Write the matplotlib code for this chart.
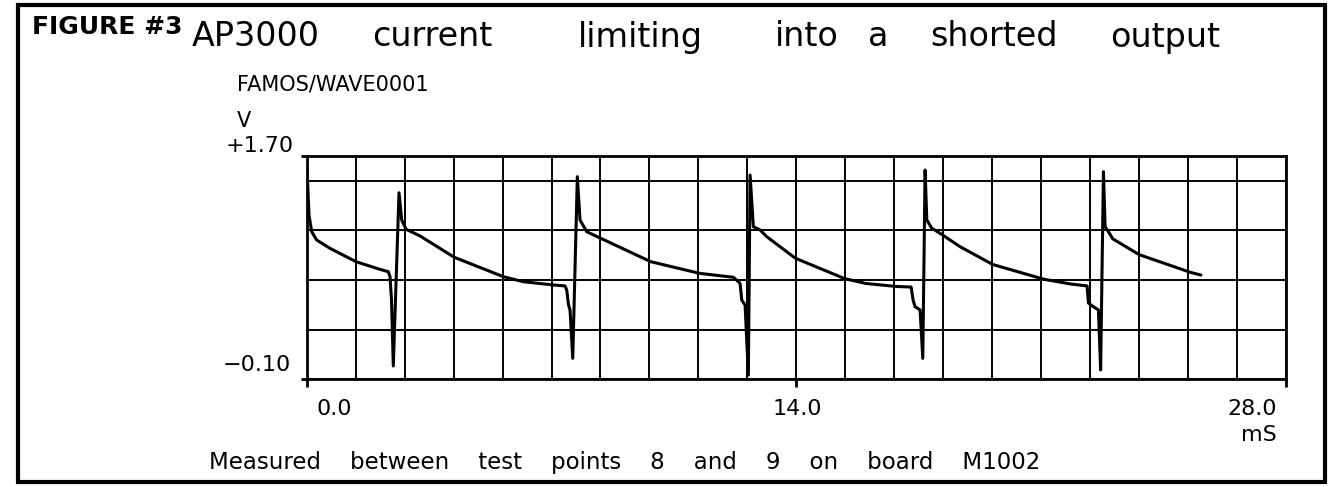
import numpy as np
import matplotlib
matplotlib.use("Agg")
import matplotlib.pyplot as plt
from matplotlib.patches import Rectangle

# ---------------- data ----------------
time_ms = [0.000, 0.066, 0.143, 0.286, 0.666, 1.410, 2.096, 2.333, 2.382, 2.425,
           2.476, 2.639, 2.717, 2.840, 3.240, 4.221, 5.622, 6.194, 7.052, 7.386,
           7.435, 7.486, 7.529, 7.607, 7.738, 7.815, 8.007, 8.407, 9.837, 11.227,
           12.199, 12.391, 12.439, 12.534, 12.628, 12.677, 12.771, 12.963, 13.154, 13.972,
           15.382, 15.988, 16.846, 17.281, 17.338, 17.395, 17.538, 17.615, 17.681, 17.730,
           17.873, 18.110, 18.682, 19.617, 21.081, 21.836, 22.313, 22.351, 22.494, 22.637,
           22.700, 22.780, 22.828, 22.923, 23.046, 23.800, 25.265, 25.568]
volts = [1.660, 1.225, 1.090, 1.023, 0.956, 0.848, 0.786, 0.767, 0.727, 0.538,
         0.005, 1.405, 1.185, 1.110, 1.056, 0.883, 0.727, 0.686, 0.660, 0.652,
         0.619, 0.498, 0.458, 0.067, 1.535, 1.185, 1.090, 1.037, 0.848, 0.754,
         0.722, 0.673, 0.538, 0.498, -0.068, 1.548, 1.131, 1.104, 1.050, 0.876,
         0.711, 0.672, 0.648, 0.643, 0.538, 0.484, 0.458, 0.067, 1.589, 1.185,
         1.118, 1.077, 0.969, 0.825, 0.706, 0.668, 0.652, 0.514, 0.484, 0.458,
         -0.027, 1.575, 1.131, 1.090, 1.033, 0.905, 0.762, 0.740]

x_limits = [0.0, 28.0]
y_limits = [-0.10, 1.70]
x_ticks = [0.0, 14.0, 28.0]
x_tick_labels = ["0.0", "14.0", "28.0"]
y_tick_labels = ["\u22120.10", "+1.70"]
x_grid_step = 1.4
y_grid_step = 0.4

figure_label = "FIGURE #3"
title_words = ["AP3000", "current", "limiting", "into", "a", "shorted", "output"]
source_label = "FAMOS/WAVE0001"
y_unit = "V"
x_unit = "mS"
caption = "Measured    between    test    points    8    and    9    on    board    M1002"

# ---------------- layout ----------------
W, H = 1340, 487
fig = plt.figure(figsize=(W / 100, H / 100), dpi=100)
fig.patch.set_facecolor("white")


def fx(px):
    return px / W


def fy(py):
    return 1 - py / H


AX_L, AX_R, AX_T, AX_B = 306.7, 1286.0, 156.25, 379.0
ax = fig.add_axes([fx(AX_L), fy(AX_B), (AX_R - AX_L) / W, (AX_B - AX_T) / H])
ax.set_xlim(x_limits)
ax.set_ylim(y_limits)
ax.set_xticks(np.arange(x_limits[0], x_limits[1] + 1e-9, x_grid_step), minor=True)
ax.set_yticks(np.arange(y_limits[0], y_limits[1] - 1e-9, y_grid_step), minor=True)
ax.set_xticks(x_ticks)
ax.set_yticks(y_limits)
ax.grid(which="both", color="black", lw=1.4)
ax.tick_params(which="minor", length=0)
ax.tick_params(axis="x", which="major", direction="out", length=6, width=2,
               labelbottom=False, color="black")
ax.tick_params(axis="y", which="major", direction="out", length=4, width=2,
               labelleft=False, color="black")
for s in ax.spines.values():
    s.set_linewidth(2.0)
    s.set_color("black")

ax.plot(time_ms, volts, color="black", lw=2.2, solid_joinstyle="round",
        solid_capstyle="round", zorder=3)

# tick labels
tick_fs = 16
offsets = [(10, "left"), (1, "center"), (-9, "right")]
for xv, lab, (dx, ha) in zip(x_ticks, x_tick_labels, offsets):
    ax.annotate(lab, xy=(xv, 0), xycoords=("data", "axes fraction"),
                xytext=(dx, -30), textcoords="offset pixels",
                ha=ha, va="center", fontsize=tick_fs)
ax.annotate(x_unit, xy=(x_limits[1], 0), xycoords=("data", "axes fraction"),
            xytext=(-9, -56), textcoords="offset pixels",
            ha="right", va="center", fontsize=tick_fs)
ax.annotate(y_tick_labels[1], xy=(0, y_limits[1]), xycoords=("axes fraction", "data"),
            xytext=(-13, 10), textcoords="offset pixels",
            ha="right", va="center", fontsize=tick_fs)
ax.annotate(y_tick_labels[0], xy=(0, y_limits[0]), xycoords=("axes fraction", "data"),
            xytext=(-16, 14), textcoords="offset pixels",
            ha="right", va="center", fontsize=tick_fs)

# header texts
fig.text(fx(32), fy(27), figure_label, fontsize=18, fontweight="bold",
         ha="left", va="center")
word_centers = [256, 432.5, 640, 807, 878.5, 994.5, 1165.5]
for w, cx in zip(title_words, word_centers):
    fig.text(fx(cx), fy(37), w, fontsize=24, ha="center", va="center")
fig.text(fx(237), fy(85), source_label, fontsize=15, ha="left", va="center")
fig.text(fx(237), fy(121), y_unit, fontsize=15, ha="left", va="center")
fig.text(fx(209), fy(463), caption, fontsize=16.5, ha="left", va="center")

# outer frame
fig.patches.append(Rectangle((fx(18), fy(482)), fx(1325) - fx(18), fy(5) - fy(482),
                             transform=fig.transFigure, fill=False,
                             edgecolor="black", lw=3))

fig.savefig("out.png", dpi=100, facecolor="white")
